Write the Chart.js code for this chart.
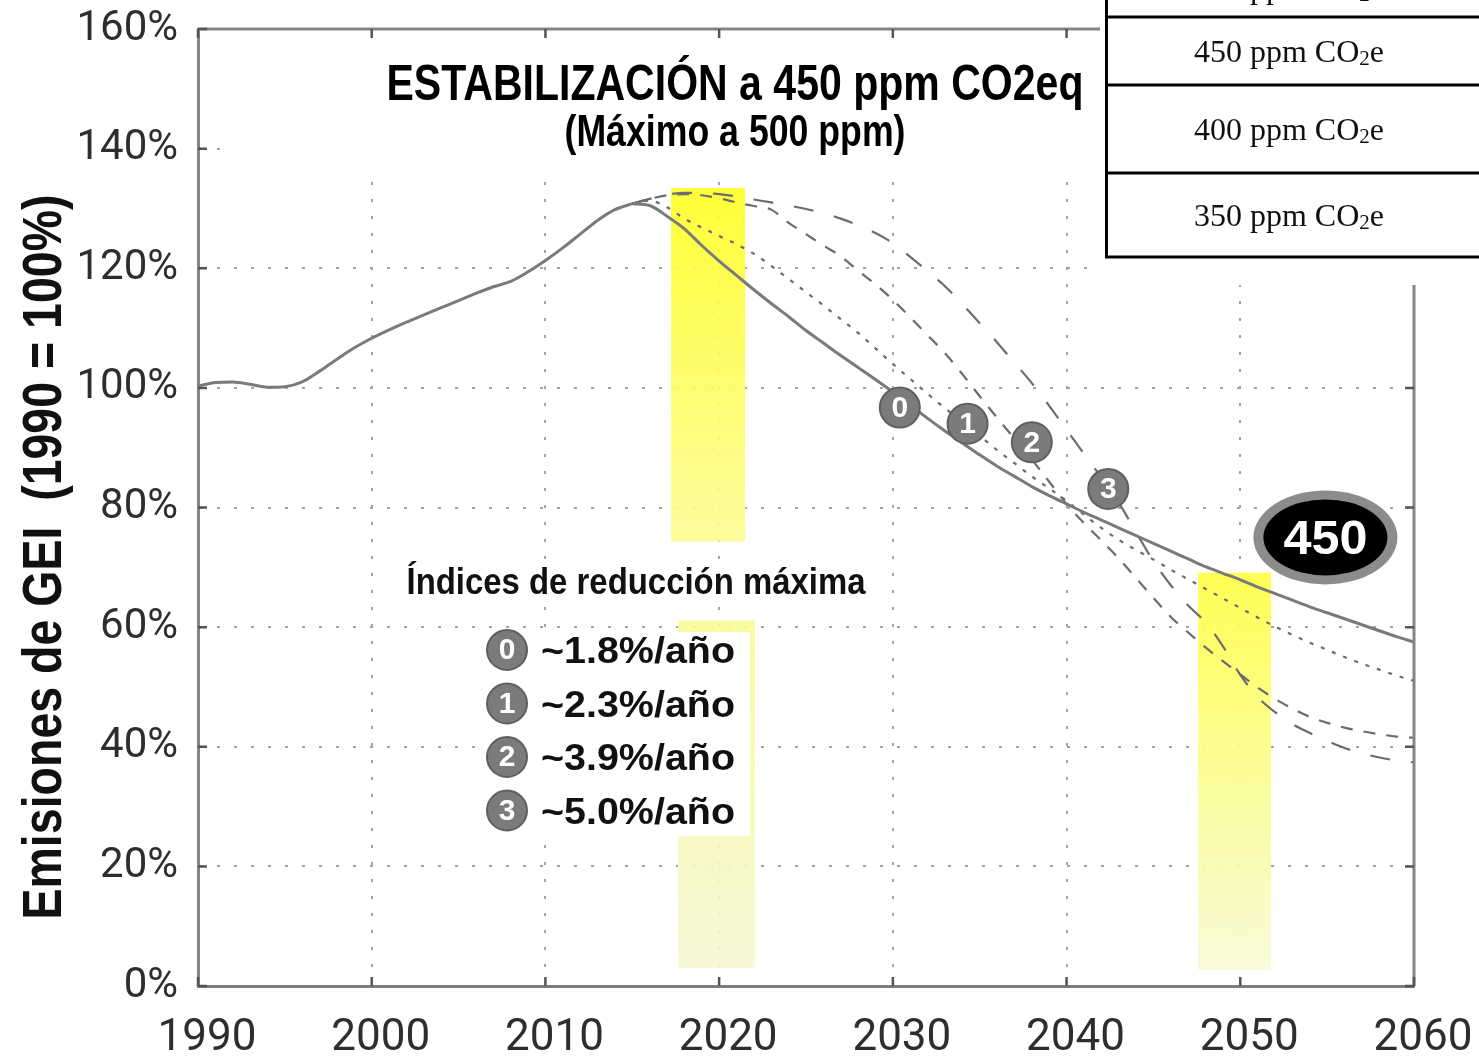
<!DOCTYPE html>
<html lang="es">
<head>
<meta charset="utf-8">
<title>Estabilización a 450 ppm CO2eq</title>
<script src="https://cdn.jsdelivr.net/npm/chart.js@4.4.1/dist/chart.umd.min.js"></script>
<style>
  html, body { margin: 0; padding: 0; background: #fff; }
  #wrap { width: 1479px; height: 1057px; }
</style>
</head>
<body>
<div id="wrap"><canvas id="chart" width="1479" height="1057"></canvas></div>
<script>
(function () {
  "use strict";

  // historical emissions (1990 = 100%)
  var histYears = [1990, 1991, 1992, 1993, 1994, 1995, 1996, 1997, 1998, 1999, 2000, 2001, 2002,
    2003, 2004, 2005, 2006, 2007, 2008, 2009, 2010, 2011, 2012, 2013, 2014, 2015];
  var histValues = [100.3, 100.9, 101.0, 100.6, 100.1, 100.2, 101.0, 102.8, 104.8, 106.7, 108.3, 109.7, 111.0,
    112.2, 113.4, 114.6, 115.8, 116.9, 117.8, 119.4, 121.3, 123.4, 125.7, 128.0, 129.8, 130.8];

  // stabilisation paths, one value per year 2015..2060
  var projYears = [2015, 2016, 2017, 2018, 2019, 2020, 2021, 2022, 2023, 2024, 2025, 2026, 2027, 2028,
    2029, 2030, 2031, 2032, 2033, 2034, 2035, 2036, 2037, 2038, 2039, 2040, 2041, 2042, 2043, 2044,
    2045, 2046, 2047, 2048, 2049, 2050, 2051, 2052, 2053, 2054, 2055, 2056, 2057, 2058, 2059, 2060];
  var path0 = [130.8, 130.5, 128.7, 126.6, 123.8, 121.2, 118.8, 116.4, 114.1, 111.9, 109.6, 107.5, 105.4, 103.4,
    101.4, 99.3, 97.1, 94.9, 92.8, 90.8, 88.8, 86.9, 85.2, 83.5, 82.0, 80.6, 79.2, 77.9, 76.6, 75.3,
    74.0, 72.7, 71.4, 70.1, 69.0, 67.9, 66.7, 65.6, 64.5, 63.4, 62.4, 61.4, 60.4, 59.4, 58.4, 57.5];
  var path1 = [130.8, 131.3, 130.2, 128.3, 126.8, 125.4, 124.0, 122.4, 120.4, 118.2, 116.0, 113.8, 111.5, 109.2,
    106.6, 104.0, 101.5, 99.0, 96.6, 94.3, 92.0, 89.6, 87.4, 85.2, 83.2, 81.1, 78.8, 76.6, 74.6, 72.9,
    71.3, 69.6, 68.0, 66.4, 64.8, 63.2, 61.6, 60.1, 58.7, 57.4, 56.2, 55.0, 53.9, 52.9, 51.9, 51.0];
  var path2 = [130.8, 131.6, 132.2, 132.4, 132.2, 131.7, 131.0, 130.4, 129.8, 127.6, 125.7, 123.8, 122.0, 119.6,
    117.3, 114.7, 111.8, 108.8, 105.8, 102.3, 98.6, 95.0, 91.5, 88.0, 84.3, 80.6, 77.4, 74.5, 71.5, 68.2,
    64.9, 61.7, 59.1, 56.6, 54.3, 52.1, 49.9, 48.0, 46.4, 45.0, 44.0, 43.2, 42.6, 42.1, 41.7, 41.5];
  var path3 = [130.8, 131.6, 132.3, 132.6, 132.6, 132.4, 132.0, 131.5, 131.0, 130.5, 129.9, 129.2, 128.3, 127.2,
    125.9, 124.2, 121.9, 119.5, 117.0, 114.0, 110.8, 107.6, 104.2, 100.8, 97.0, 93.0, 89.0, 85.0, 80.8, 75.9,
    71.0, 67.0, 63.6, 60.8, 56.8, 52.0, 48.3, 45.8, 43.8, 42.3, 41.0, 39.8, 38.9, 38.2, 37.7, 37.4];

  var xTicks = [1990, 2000, 2010, 2020, 2030, 2040, 2050, 2060];
  var yTicks = [0, 20, 40, 60, 80, 100, 120, 140, 160];
  var pathIds = ["0", "1", "2", "3"];
  var rateLabels = ["~1.8%/año", "~2.3%/año", "~3.9%/año", "~5.0%/año"];
  var tableRows = ["500 ppm CO", "450 ppm CO", "400 ppm CO", "350 ppm CO"];

  var SANS = '"Liberation Sans", Arial, sans-serif';
  var SERIF = '"Liberation Serif", "Times New Roman", serif';
  var LINE = "#7a7a7a";
  var DASH = "#6c6c6c";

  function toPoints(years, values) {
    return years.map(function (y, i) { return { x: y, y: values[i] }; });
  }

  function fitText(ctx, text, x, y, font, width, color) {
    ctx.save();
    ctx.font = font;
    ctx.fillStyle = color || "#000";
    ctx.textBaseline = "alphabetic";
    ctx.textAlign = "center";
    var w = ctx.measureText(text).width;
    ctx.translate(x, y);
    ctx.scale(width / w, 1);
    ctx.fillText(text, 0, 0);
    ctx.restore();
  }

  function numberBadge(ctx, cx, cy, r, txt) {
    ctx.save();
    ctx.beginPath();
    ctx.arc(cx, cy, r, 0, Math.PI * 2);
    ctx.fillStyle = "#7b7b7b";
    ctx.fill();
    ctx.lineWidth = 2;
    ctx.strokeStyle = "#5f5f5f";
    ctx.stroke();
    ctx.fillStyle = "#fff";
    ctx.font = "bold " + Math.round(r * 1.5) + "px " + SANS;
    ctx.textAlign = "center";
    ctx.textBaseline = "middle";
    ctx.fillText(txt, cx, cy + 1);
    ctx.restore();
  }

  function band(ctx, xs, ys, x0, x1, top, bottom, c0, c1) {
    var px0 = xs.getPixelForValue(x0), px1 = xs.getPixelForValue(x1);
    var py0 = ys.getPixelForValue(top), py1 = ys.getPixelForValue(bottom);
    var g = ctx.createLinearGradient(0, py0, 0, py1);
    g.addColorStop(0, c0);
    g.addColorStop(1, c1);
    ctx.fillStyle = g;
    ctx.fillRect(px0, py0, px1 - px0, py1 - py0);
  }

  function co2Text(ctx, prefix, cx, base) {
    var big = "32px " + SERIF, small = "21px " + SERIF;
    ctx.save();
    ctx.fillStyle = "#111";
    ctx.textBaseline = "alphabetic";
    ctx.textAlign = "left";
    ctx.font = big;
    var w1 = ctx.measureText(prefix).width, w3 = ctx.measureText("e").width;
    ctx.font = small;
    var w2 = ctx.measureText("2").width;
    var x = cx - (w1 + w2 + w3) / 2;
    ctx.font = big;
    ctx.fillText(prefix, x, base);
    ctx.font = small;
    ctx.fillText("2", x + w1, base + 3);
    ctx.font = big;
    ctx.fillText("e", x + w1 + w2, base);
    ctx.restore();
  }

  var decor = {
    id: "decor",
    beforeDatasetsDraw: function (chart) {
      var ctx = chart.ctx, a = chart.chartArea, xs = chart.scales.x, ys = chart.scales.y;
      ctx.save();
      // backdrop behind the title
      ctx.fillStyle = "#fff";
      ctx.fillRect(234, a.top + 2, 870, 145);
      fitText(ctx, "ESTABILIZACIÓN a 450 ppm CO2eq", 735, 100, "bold 50px " + SANS, 697, "#000");
      fitText(ctx, "(Máximo a 500 ppm)", 735, 146, "bold 44px " + SANS, 341, "#000");

      // highlighted periods
      band(ctx, xs, ys, 2017.23, 2021.5, 133.4, 74.3, "rgba(255,255,40,0.92)", "rgba(252,252,150,0.92)");
      band(ctx, xs, ys, 2017.63, 2022.07, 61.1, 3, "rgba(250,250,150,0.9)", "rgba(246,248,212,0.9)");
      band(ctx, xs, ys, 2047.57, 2051.77, 69.1, 2.7, "rgba(255,255,70,0.92)", "rgba(248,250,215,0.92)");

      // white box behind the rate legend
      ctx.fillStyle = "#fff";
      ctx.fillRect(484, 632, 266, 204);
      ctx.restore();
    },
    afterDatasetsDraw: function (chart) {
      var ctx = chart.ctx, a = chart.chartArea, xs = chart.scales.x, ys = chart.scales.y;
      ctx.save();
      // top and right frame
      ctx.strokeStyle = "#858585";
      ctx.lineWidth = 3;
      ctx.beginPath();
      ctx.moveTo(a.left, a.top);
      ctx.lineTo(a.right, a.top);
      ctx.lineTo(a.right, a.bottom);
      ctx.stroke();

      // inner tick marks
      ctx.strokeStyle = "#555";
      ctx.lineWidth = 2.5;
      ctx.beginPath();
      yTicks.forEach(function (v) {
        var y = ys.getPixelForValue(v);
        ctx.moveTo(a.left, y); ctx.lineTo(a.left + 9, y);
        ctx.moveTo(a.right - 9, y); ctx.lineTo(a.right, y);
      });
      xTicks.forEach(function (v) {
        var x = xs.getPixelForValue(v);
        ctx.moveTo(x, a.bottom); ctx.lineTo(x, a.bottom - 9);
        ctx.moveTo(x, a.top); ctx.lineTo(x, a.top + 9);
      });
      ctx.stroke();

      // path markers on the curves
      var marks = [[2030.4, 96.7], [2034.3, 94.0], [2038.0, 90.9], [2042.4, 83.1]];
      marks.forEach(function (m, i) {
        numberBadge(ctx, xs.getPixelForValue(m[0]), ys.getPixelForValue(m[1]), 20, pathIds[i]);
      });

      // "450" badge
      var bx = xs.getPixelForValue(2054.9), by = ys.getPixelForValue(75);
      ctx.beginPath();
      ctx.ellipse(bx, by, 72, 47, 0, 0, Math.PI * 2);
      ctx.fillStyle = "#8c8c8c";
      ctx.fill();
      ctx.beginPath();
      ctx.ellipse(bx, by, 62, 38, 0, 0, Math.PI * 2);
      ctx.fillStyle = "#000";
      ctx.fill();
      fitText(ctx, "450", bx, by + 17, "bold 48px " + SANS, 84, "#fff");

      // legend of reduction rates
      fitText(ctx, "Índices de reducción máxima", 636, 594, "bold 36px " + SANS, 459, "#111");
      rateLabels.forEach(function (txt, i) {
        var cy = 650 + i * 53.5;
        numberBadge(ctx, 507, cy, 20, pathIds[i]);
        ctx.save();
        ctx.font = "bold 36px " + SANS;
        var w = ctx.measureText(txt).width;
        ctx.translate(541, cy + 13);
        ctx.scale(194 / w, 1);
        ctx.fillStyle = "#111";
        ctx.textAlign = "left";
        ctx.textBaseline = "alphabetic";
        ctx.fillText(txt, 0, 0);
        ctx.restore();
      });
      ctx.restore();
    },
    afterDraw: function (chart) {
      var ctx = chart.ctx;
      ctx.save();
      // axis title
      ctx.translate(61, 557);
      ctx.rotate(-Math.PI / 2);
      fitText(ctx, "Emisiones de GEI  (1990 = 100%)", 0, 0, "bold 56px " + SANS, 725, "#111");
      ctx.restore();

      // concentration table in the corner
      ctx.save();
      ctx.fillStyle = "#fff";
      ctx.fillRect(1100, 0, 379, 285);
      ctx.strokeStyle = "#000";
      ctx.lineWidth = 3;
      ctx.beginPath();
      ctx.moveTo(1106.5, 0); ctx.lineTo(1106.5, 258.5);
      [17, 85, 173, 257].forEach(function (y) {
        ctx.moveTo(1105, y); ctx.lineTo(1479, y);
      });
      ctx.stroke();
      var bases = [-2, 62, 140, 226];
      tableRows.forEach(function (txt, i) {
        co2Text(ctx, txt, 1289, bases[i]);
      });
      ctx.restore();
    }
  };

  var ctx = document.getElementById("chart");
  new Chart(ctx, {
    type: "line",
    data: {
      datasets: [
        { data: toPoints(histYears, histValues), borderColor: LINE, borderWidth: 3 },
        { data: toPoints(projYears, path0), borderColor: LINE, borderWidth: 3 },
        { data: toPoints(projYears, path1), borderColor: DASH, borderWidth: 2.2, borderDash: [4, 8] },
        { data: toPoints(projYears, path2), borderColor: DASH, borderWidth: 2.2, borderDash: [12, 11] },
        { data: toPoints(projYears, path3), borderColor: DASH, borderWidth: 2.2, borderDash: [20, 21] }
      ]
    },
    options: {
      responsive: false,
      animation: false,
      devicePixelRatio: 1,
      elements: {
        point: { radius: 0 },
        line: { cubicInterpolationMode: "monotone", fill: false }
      },
      layout: { padding: { top: 29, right: 65, left: 0, bottom: 0 } },
      plugins: { legend: { display: false }, tooltip: { enabled: false } },
      scales: {
        x: {
          type: "linear",
          min: 1990,
          max: 2060,
          afterBuildTicks: function (s) { s.ticks = xTicks.map(function (v) { return { value: v }; }); },
          afterFit: function (s) {
            s.height = 71;
            s.paddingLeft = 0; s.paddingRight = 0; s.paddingTop = 0; s.paddingBottom = 0;
          },
          grid: { color: "#a3a3a3", lineWidth: 2, drawTicks: false },
          border: { display: true, color: "#7d7d7d", width: 3, dash: [3, 14] },
          ticks: {
            color: "#2e2e2e",
            font: { family: "Roboto", size: 44 },
            padding: 27,
            labelOffset: 9,
            maxRotation: 0,
            autoSkip: false,
            callback: function (v) { return String(v); }
          }
        },
        y: {
          min: 0,
          max: 160,
          afterBuildTicks: function (s) { s.ticks = yTicks.map(function (v) { return { value: v }; }); },
          afterFit: function (s) {
            s.width = 198;
            s.paddingLeft = 0; s.paddingRight = 0; s.paddingTop = 0; s.paddingBottom = 0;
          },
          grid: { color: "#a3a3a3", lineWidth: 2, drawTicks: false },
          border: { display: true, color: "#858585", width: 3, dash: [3, 14] },
          ticks: {
            color: "#2e2e2e",
            font: { family: "Roboto", size: 42 },
            padding: 20,
            autoSkip: false,
            callback: function (v) { return v + "%"; }
          }
        }
      }
    },
    plugins: [decor]
  });
})();
</script>
</body>
</html>
